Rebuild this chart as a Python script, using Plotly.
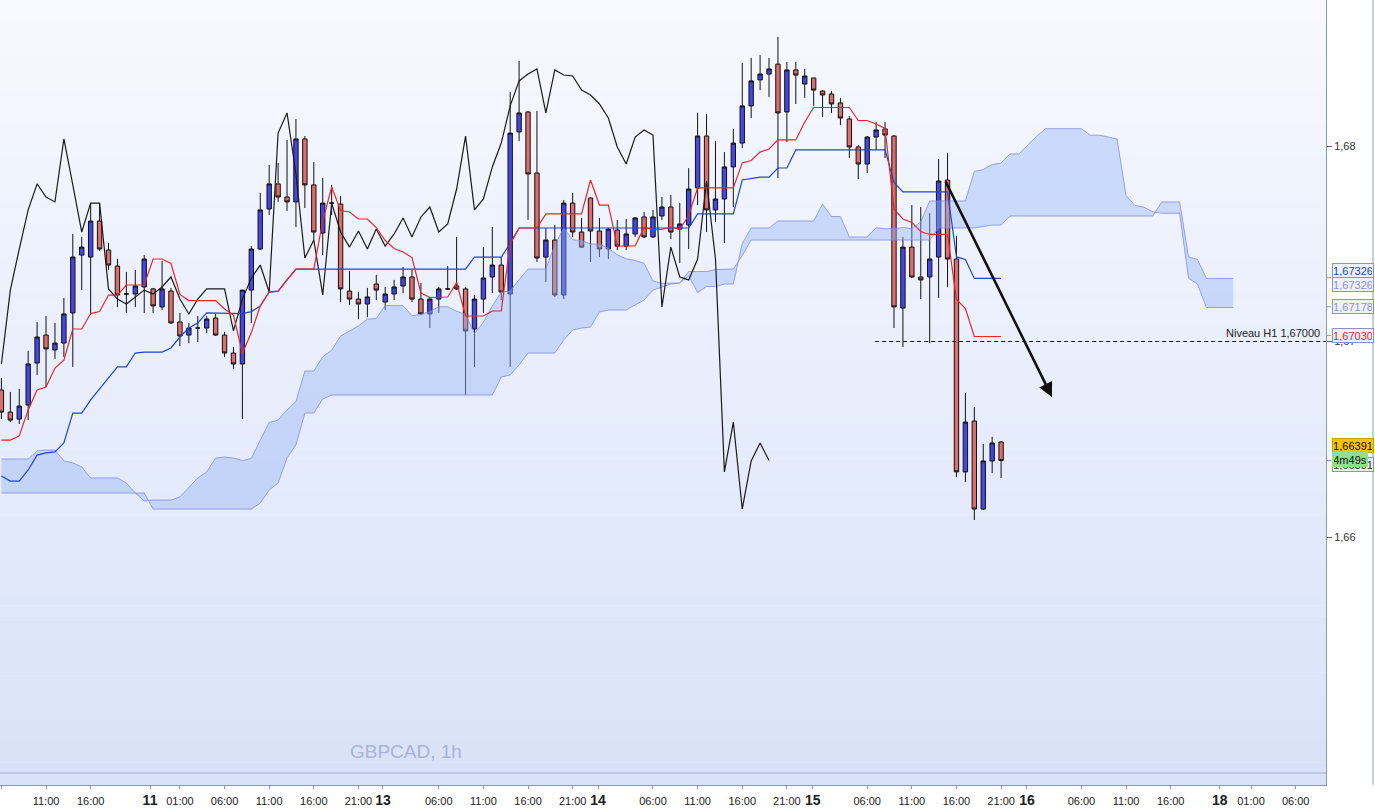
import plotly.graph_objects as go

# ---------------- data (GBPCAD 1h candles, index = candle number) ----------------
open_ = [1.66752, 1.66639, 1.66603, 1.66675, 1.66890, 1.67033, 1.66957, 1.66992, 1.67146, 1.67442,
         1.67432, 1.67616, 1.67468, 1.67386, 1.67243, 1.67243, 1.67279, 1.67269, 1.67177, 1.67258,
         1.67100, 1.67033, 1.67069, 1.67069, 1.67120, 1.67033, 1.66941, 1.66885, 1.67263, 1.67473,
         1.67678, 1.67806, 1.67739, 1.67714, 1.68036, 1.67801, 1.67555, 1.67708, 1.67703, 1.67258,
         1.67217, 1.67192, 1.67294, 1.67202, 1.67243, 1.67284, 1.67330, 1.67217, 1.67141, 1.67217,
         1.67269, 1.67284, 1.67269, 1.67064, 1.67217, 1.67330, 1.67391, 1.67243, 1.68072, 1.68174,
         1.67862, 1.67432, 1.67519, 1.67238, 1.67708, 1.67560, 1.67734, 1.67565, 1.67473, 1.67570,
         1.67488, 1.67550, 1.67637, 1.67535, 1.67642, 1.67688, 1.67575, 1.67596, 1.67785, 1.68051,
         1.67673, 1.67729, 1.67893, 1.68015, 1.68205, 1.68338, 1.68368, 1.68419, 1.68174, 1.68389,
         1.68317, 1.68348, 1.68281, 1.68266, 1.68220, 1.68138, 1.67995, 1.67908, 1.68046, 1.68087,
         1.68051, 1.67171, 1.67483, 1.67330, 1.67330, 1.67432, 1.67826, 1.67422, 1.66333, 1.66593,
         1.66143, 1.66389, 1.66486]
high_ = [1.66813, 1.66742, 1.66757, 1.66951, 1.67100, 1.67130, 1.67095, 1.67223, 1.67550, 1.67535,
         1.67708, 1.67708, 1.67504, 1.67422, 1.67356, 1.67366, 1.67442, 1.67274, 1.67412, 1.67274,
         1.67146, 1.67095, 1.67130, 1.67130, 1.67141, 1.67049, 1.66972, 1.67263, 1.67488, 1.67760,
         1.67903, 1.67913, 1.68031, 1.68138, 1.68051, 1.67918, 1.67836, 1.67801, 1.67744, 1.67361,
         1.67253, 1.67274, 1.67340, 1.67279, 1.67315, 1.67381, 1.67366, 1.67299, 1.67228, 1.67279,
         1.67386, 1.67535, 1.67279, 1.67238, 1.67483, 1.67586, 1.67432, 1.68276, 1.68435, 1.68179,
         1.68179, 1.67581, 1.67596, 1.67724, 1.67760, 1.67632, 1.67739, 1.67632, 1.67581, 1.67622,
         1.67627, 1.67637, 1.67662, 1.67673, 1.67739, 1.67749, 1.67708, 1.67887, 1.68169, 1.68164,
         1.68026, 1.67969, 1.68087, 1.68425, 1.68450, 1.68465, 1.68450, 1.68558, 1.68430, 1.68430,
         1.68394, 1.68348, 1.68286, 1.68281, 1.68246, 1.68153, 1.68005, 1.68051, 1.68123, 1.68123,
         1.68056, 1.67535, 1.67698, 1.67688, 1.67657, 1.67934, 1.67964, 1.67540, 1.66737, 1.66665,
         1.66476, 1.66512, 1.66491]
low_ = [1.66603, 1.66588, 1.66578, 1.66598, 1.66829, 1.66767, 1.66911, 1.66921, 1.66870, 1.67263,
        1.67136, 1.67463, 1.67366, 1.67177, 1.67146, 1.67177, 1.67146, 1.67146, 1.67161, 1.67090,
        1.66977, 1.66992, 1.66997, 1.67043, 1.67028, 1.66921, 1.66859, 1.66603, 1.67095, 1.67468,
        1.67647, 1.67714, 1.67668, 1.67586, 1.67683, 1.67519, 1.67442, 1.67647, 1.67202, 1.67187,
        1.67115, 1.67125, 1.67212, 1.67161, 1.67212, 1.67248, 1.67202, 1.67136, 1.67069, 1.67146,
        1.67263, 1.67263, 1.66726, 1.66870, 1.67146, 1.67248, 1.67212, 1.66870, 1.68026, 1.67622,
        1.67407, 1.67304, 1.67228, 1.67217, 1.67535, 1.67478, 1.67407, 1.67432, 1.67422, 1.67468,
        1.67468, 1.67535, 1.67529, 1.67529, 1.67622, 1.67524, 1.67402, 1.67473, 1.67698, 1.67560,
        1.67611, 1.67504, 1.67688, 1.67990, 1.68143, 1.68286, 1.68251, 1.67836, 1.68020, 1.68215,
        1.68246, 1.68205, 1.68148, 1.68169, 1.68107, 1.67939, 1.67831, 1.67862, 1.67979, 1.67939,
        1.67069, 1.66972, 1.67325, 1.67217, 1.66992, 1.67223, 1.67279, 1.66307, 1.66281, 1.66087,
        1.66138, 1.66327, 1.66302]
close_ = [1.66639, 1.66598, 1.66670, 1.66885, 1.67023, 1.66962, 1.66992, 1.67141, 1.67432, 1.67483,
          1.67616, 1.67473, 1.67391, 1.67238, 1.67243, 1.67284, 1.67422, 1.67182, 1.67269, 1.67095,
          1.67028, 1.67069, 1.67069, 1.67115, 1.67033, 1.66941, 1.66885, 1.67263, 1.67473, 1.67673,
          1.67806, 1.67739, 1.67714, 1.68036, 1.67801, 1.67560, 1.67708, 1.67708, 1.67269, 1.67217,
          1.67192, 1.67228, 1.67263, 1.67243, 1.67279, 1.67330, 1.67217, 1.67141, 1.67217, 1.67269,
          1.67269, 1.67269, 1.67054, 1.67217, 1.67325, 1.67391, 1.67253, 1.68066, 1.68169, 1.67857,
          1.67427, 1.67519, 1.67238, 1.67708, 1.67560, 1.67483, 1.67565, 1.67473, 1.67575, 1.67488,
          1.67550, 1.67632, 1.67535, 1.67637, 1.67688, 1.67560, 1.67601, 1.67780, 1.68051, 1.67673,
          1.67729, 1.67893, 1.68015, 1.68205, 1.68333, 1.68368, 1.68394, 1.68169, 1.68389, 1.68363,
          1.68358, 1.68286, 1.68261, 1.68215, 1.68143, 1.67995, 1.67908, 1.68046, 1.68082, 1.68056,
          1.67177, 1.67483, 1.67330, 1.67315, 1.67422, 1.67821, 1.67422, 1.66333, 1.66588, 1.66143,
          1.66389, 1.66481, 1.66391]

# Ichimoku values visible at the left edge (their history lies before the first candle)
tenkan_early = [1.66496, 1.66496, 1.66517, 1.66650, 1.66752, 1.66767, 1.66864, 1.66905]
kijun_early = [1.66312, 1.66286, 1.66286, 1.66343, 1.66419, 1.66430, 1.66435, 1.66481, 1.66634, 1.66634,
               1.66701, 1.66757, 1.66818, 1.66870, 1.66870, 1.66941, 1.66946, 1.66946, 1.66946, 1.66967,
               1.67023, 1.67069, 1.67095, 1.67146, 1.67146]
span_a_early = [1.66399, 1.66399, 1.66399, 1.66399, 1.66440, 1.66445, 1.66445, 1.66389, 1.66379, 1.66358,
                1.66302, 1.66302, 1.66302, 1.66302, 1.66276, 1.66225, 1.66184, 1.66189, 1.66189, 1.66189,
                1.66205, 1.66256, 1.66302, 1.66333, 1.66404, 1.66409]
span_b_early = [1.66225, 1.66225, 1.66225, 1.66225, 1.66225, 1.66225, 1.66225, 1.66225, 1.66225, 1.66225,
                1.66225, 1.66225, 1.66225, 1.66225, 1.66225, 1.66225, 1.66225, 1.66143, 1.66143, 1.66143,
                1.66143, 1.66143, 1.66143, 1.66143, 1.66143, 1.66143, 1.66143, 1.66143, 1.66143, 1.66174,
                1.66240, 1.66276, 1.66404, 1.66471, 1.66634, 1.66634, 1.66706, 1.66726, 1.66726, 1.66726,
                1.66726, 1.66726, 1.66726, 1.66726, 1.66726, 1.66726, 1.66726, 1.66726, 1.66726, 1.66726,
                1.66726, 1.66726, 1.66726, 1.66726, 1.66726, 1.66726, 1.66818, 1.66829, 1.66880, 1.66941,
                1.66941, 1.66941, 1.66941, 1.67008, 1.67059, 1.67069, 1.67074, 1.67151, 1.67161, 1.67161,
                1.67161, 1.67187, 1.67212, 1.67263, 1.67279, 1.67294, 1.67299]

# x tick labels (candle index positions)
xtick_vals = [0, 5, 10, 16.65, 20, 25, 30, 35, 40, 42.75, 49, 54, 59, 64, 66.85, 73, 78, 83, 88, 90.9,
              97, 102, 107, 112, 114.9, 121, 126, 131, 136.5, 140, 145]
xtick_text = ['06:00', '11:00', '16:00', '11', '01:00', '06:00', '11:00', '16:00', '21:00', '13',
              '06:00', '11:00', '16:00', '21:00', '14', '06:00', '11:00', '16:00', '21:00', '15',
              '06:00', '11:00', '16:00', '21:00', '16', '06:00', '11:00', '16:00', '18', '01:00', '06:00']
day_labels = ['11', '13', '14', '15', '16', '18']

ytick_vals = [1.66, 1.67, 1.68]
ytick_text = ['1,66', '1,67', '1,68']

level_price = 1.67000
level_text = 'Niveau H1 1,67000'
level_start = 97.9

arrow_tail = (105.7, 1.67826)
arrow_head = (117.7, 1.66716)

# right-hand price tags: text, price, text colour, background, border
tag_text = ['1,67326', '1,67326', '1,67178', '1,67030', '1,66391', '1,66391', '4m49s']
tag_price = [1.67326, 1.67326, 1.67178, 1.67030, 1.66391, 1.66391, 1.66391]
tag_shift = [7, -7, 0.5, 0.5, -4, 15.5, 1]
tag_color = ['#1f3fd0', '#8c95c8', '#8c95c8', '#e0262c', '#333333', '#111111', '#111111']
tag_bg = ['#eef2fc', '#eef0f8', '#eef0f8', '#eef0f8', '#e8eef9', '#f4c20d', '#8ee08a']
tag_border = ['#8595bd', '#8595bd', '#8595bd', '#8595bd', '#8595bd', '#c9a000', '#8ee08a']
tag_width = [38, 38, 38, 38, 38, 38, 32]

title_text = 'GBPCAD, 1h'

# ---------------- Ichimoku lines ----------------
n = len(close_)
shift = 26


def midpoint(period, k):
    lo = max(0, k - period + 1)
    return (max(high_[lo:k + 1]) + min(low_[lo:k + 1])) / 2


tenkan = tenkan_early + [midpoint(9, k) for k in range(len(tenkan_early), n)]
kijun = kijun_early + [midpoint(26, k) for k in range(len(kijun_early), n)]
span_a = span_a_early + [(tenkan[j - shift] + kijun[j - shift]) / 2
                         for j in range(len(span_a_early), n + shift)]
span_b = span_b_early + [midpoint(52, j - shift) for j in range(len(span_b_early), n + shift)]
chikou_x = list(range(0, n - shift))
chikou_y = close_[shift:]
xs = list(range(n))
xs_cloud = list(range(n + shift))

FONT = 'Liberation Sans, Arial, sans-serif'

fig = go.Figure()

# cloud
fig.add_trace(go.Scatter(x=xs_cloud, y=span_b, mode='lines',
                         line=dict(color='rgba(125,135,225,0.75)', width=1), hoverinfo='skip'))
fig.add_trace(go.Scatter(x=xs_cloud, y=span_a, mode='lines', fill='tonexty',
                         fillcolor='rgba(150,180,245,0.42)',
                         line=dict(color='rgba(125,135,225,0.75)', width=1), hoverinfo='skip'))

# candles
fig.add_trace(go.Candlestick(
    x=xs, open=open_, high=high_, low=low_, close=close_,
    increasing=dict(line=dict(color='#111111', width=1), fillcolor='#4646e6'),
    decreasing=dict(line=dict(color='#111111', width=1), fillcolor='#de6e69'),
    whiskerwidth=0, hoverinfo='skip'))

# chikou, kijun, tenkan
fig.add_trace(go.Scatter(x=chikou_x, y=chikou_y, mode='lines',
                         line=dict(color='#1a1a1a', width=1.2), hoverinfo='skip'))
fig.add_trace(go.Scatter(x=xs, y=kijun, mode='lines',
                         line=dict(color='#2146c8', width=1.2), hoverinfo='skip'))
fig.add_trace(go.Scatter(x=xs, y=tenkan, mode='lines',
                         line=dict(color='#e8262a', width=1.2), hoverinfo='skip'))

# ---------------- background gradient ----------------
shapes = []
bands = 70
top_c = (247, 249, 255)
bot_c = (216, 226, 248)
for i in range(bands):
    t = i / (bands - 1)
    c = tuple(round(top_c[j] + (bot_c[j] - top_c[j]) * t) for j in range(3))
    shapes.append(dict(type='rect', xref='paper', yref='paper', x0=0, x1=1,
                       y0=1 - (i + 1) / bands, y1=1 - i / bands + 0.0005,
                       fillcolor='rgb(%d,%d,%d)' % c, line=dict(width=0), layer='below'))
# separator line near bottom of plot area
shapes.append(dict(type='line', xref='paper', yref='paper', x0=0, x1=1,
                   y0=12 / 785, y1=12 / 785, line=dict(color='#9aa8c8', width=1)))
# far right border
shapes.append(dict(type='line', xref='paper', yref='paper', x0=1373 / 1326, x1=1373 / 1326,
                   y0=0, y1=1, line=dict(color='#8a9ab0', width=1)))
# level line
shapes.append(dict(type='line', xref='x', yref='y', x0=level_start, x1=148.4,
                   y0=level_price, y1=level_price,
                   line=dict(color='#111111', width=1, dash='4px,3px')))
# small connectors for tags
for p in [1.67326, 1.67178, 1.67030, 1.66391]:
    shapes.append(dict(type='line', xref='paper', yref='y', x0=1.0, x1=1.004,
                       y0=p, y1=p, line=dict(color='#8595bd', width=1)))

annotations = []
# arrow
annotations.append(dict(x=arrow_head[0], y=arrow_head[1], ax=arrow_tail[0], ay=arrow_tail[1],
                        xref='x', yref='y', axref='x', ayref='y', text='', showarrow=True,
                        arrowhead=2, arrowsize=1.1, arrowwidth=2.6, arrowcolor='#111111'))
# level text
annotations.append(dict(x=1322 / 1326, xref='paper', y=level_price, yref='y', text=level_text,
                        showarrow=False, xanchor='right', yanchor='bottom', yshift=1,
                        font=dict(family=FONT, size=11, color='#222222')))
# title
annotations.append(dict(x=406 / 1326, xref='paper', y=34 / 785, yref='paper', text=title_text,
                        showarrow=False, xanchor='center', yanchor='middle',
                        font=dict(family=FONT, size=19, color='#a7b3d5')))
# price tags
for t, p, s, col, bg, bd, w in zip(tag_text, tag_price, tag_shift, tag_color, tag_bg, tag_border,
                                   tag_width):
    annotations.append(dict(x=1.0042, xref='paper', y=p, yref='y', yshift=s, text=t,
                            showarrow=False, xanchor='left', yanchor='middle',
                            bgcolor=bg, bordercolor=bd, borderwidth=1, borderpad=1,
                            width=w, height=11, align='center',
                            font=dict(family=FONT, size=11, color=col)))

ticktext_fmt = ["<b><span style='font-size:14px'>%s</span></b>" % t if t in day_labels else t
                for t in xtick_text]

fig.update_layout(
    width=1375, height=809,
    margin=dict(l=0, r=49, t=0, b=24, autoexpand=False),
    paper_bgcolor='#ffffff', plot_bgcolor='rgba(0,0,0,0)',
    showlegend=False, hovermode=False, dragmode=False,
    shapes=shapes, annotations=annotations,
    xaxis=dict(range=[-0.157, 148.4], tickvals=xtick_vals, ticktext=ticktext_fmt,
               showgrid=False, zeroline=False, ticks='outside', ticklen=3, tickcolor='#8a9ab0',
               showline=True, linecolor='#8a9ab0', linewidth=1, automargin=False,
               ticklabelstandoff=3,
               tickfont=dict(family=FONT, size=11, color='#222222'),
               rangeslider=dict(visible=False), fixedrange=True),
    yaxis=dict(side='right', range=[1.647315, 1.687468], tickvals=ytick_vals, ticktext=ytick_text,
               showgrid=False, zeroline=False, ticks='outside', ticklen=5, tickcolor='#666666',
               showline=True, linecolor='#8a9ab0', linewidth=1, automargin=False,
               tickfont=dict(family=FONT, size=11, color='#333333'), fixedrange=True),
)

fig.write_html('out.html', config={'displayModeBar': False},
               post_script="document.body.style.margin='0';document.body.style.overflow='hidden';")
